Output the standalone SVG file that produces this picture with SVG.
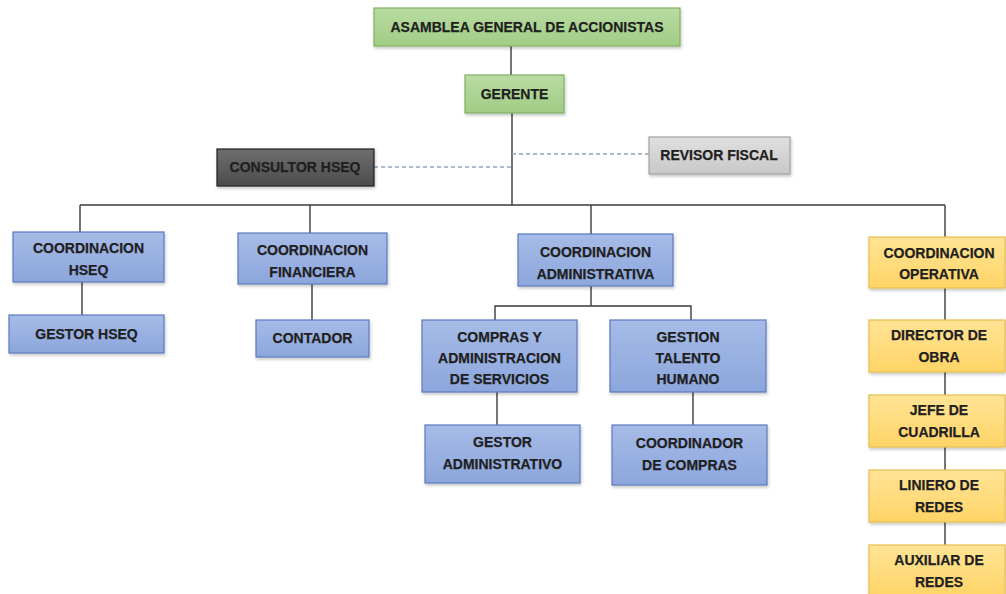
<svg xmlns="http://www.w3.org/2000/svg" width="1006" height="594" viewBox="0 0 1006 594">
<defs>
<linearGradient id="gBlue" x1="0" y1="0" x2="0" y2="1"><stop offset="0" stop-color="#a6bbe7"/><stop offset="1" stop-color="#8ca6dc"/></linearGradient>
<linearGradient id="gGreen" x1="0" y1="0" x2="0" y2="1"><stop offset="0" stop-color="#b9dca2"/><stop offset="1" stop-color="#a0cc84"/></linearGradient>
<linearGradient id="gYellow" x1="0" y1="0" x2="0" y2="1"><stop offset="0" stop-color="#ffe496"/><stop offset="1" stop-color="#ffd466"/></linearGradient>
<linearGradient id="gDark" x1="0" y1="0" x2="0" y2="1"><stop offset="0" stop-color="#6e6e6e"/><stop offset="1" stop-color="#4c4c4c"/></linearGradient>
<linearGradient id="gLight" x1="0" y1="0" x2="0" y2="1"><stop offset="0" stop-color="#e0e0e0"/><stop offset="1" stop-color="#c8c8c8"/></linearGradient>
<filter id="sh" x="-10%" y="-10%" width="125%" height="135%"><feDropShadow dx="1" dy="2" stdDeviation="1.5" flood-color="#000" flood-opacity="0.22"/></filter>
</defs>
<style>
.blue{fill:url(#gBlue);stroke:#5a7abf;stroke-width:1.2;filter:url(#sh)}
.green{fill:url(#gGreen);stroke:#7fb060;stroke-width:1.2;filter:url(#sh)}
.yellow{fill:url(#gYellow);stroke:#e8bd4e;stroke-width:1.2;filter:url(#sh)}
.dark{fill:url(#gDark);stroke:#1e1e1e;stroke-width:1.2;filter:url(#sh)}
.light{fill:url(#gLight);stroke:#a3a3a3;stroke-width:1.2;filter:url(#sh)}
text{font-family:"Liberation Sans",Arial,sans-serif;font-weight:bold;font-size:14px;fill:#1f1f1f;stroke:#1f1f1f;stroke-width:0.25;text-anchor:middle}
.ln{stroke:#3a3a3a;stroke-width:1.4;fill:none}
.dash{stroke:#93a4bb;stroke-width:1.3;stroke-dasharray:4 3;fill:none}
</style>
<rect width="1006" height="594" fill="#ffffff"/>
<g id="connectors">
<line class="ln" x1="511" y1="46" x2="511" y2="75"/>
<line class="ln" x1="512" y1="113" x2="512" y2="205"/>
<line class="dash" x1="374" y1="167" x2="512" y2="167"/>
<line class="dash" x1="512" y1="154" x2="649" y2="154"/>
<line class="ln" x1="80" y1="205" x2="945" y2="205"/>
<line class="ln" x1="80" y1="205" x2="80" y2="232"/>
<line class="ln" x1="82" y1="282" x2="82" y2="315"/>
<line class="ln" x1="310" y1="205" x2="310" y2="233"/>
<line class="ln" x1="312" y1="284" x2="312" y2="320"/>
<line class="ln" x1="591" y1="205" x2="591" y2="234"/>
<line class="ln" x1="591" y1="286" x2="591" y2="306"/>
<polyline class="ln" points="495,320 495,306 691,306 691,320"/>
<line class="ln" x1="497" y1="392" x2="497" y2="425"/>
<line class="ln" x1="693" y1="392" x2="693" y2="425"/>
<line class="ln" x1="945" y1="205" x2="945" y2="237"/>
<line class="ln" x1="945" y1="288" x2="945" y2="320"/>
<line class="ln" x1="945" y1="372" x2="945" y2="395"/>
<line class="ln" x1="945" y1="447" x2="945" y2="470"/>
<line class="ln" x1="945" y1="522" x2="945" y2="545"/>
</g>
<g id="asamblea"><rect class="green" x="374" y="8" width="306" height="38"/><text x="527" y="32">ASAMBLEA GENERAL DE ACCIONISTAS</text></g>
<g id="gerente"><rect class="green" x="465" y="75" width="99" height="38"/><text x="514.5" y="99">GERENTE</text></g>
<g id="consultor-hseq"><rect class="dark" x="217" y="149" width="157" height="37"/><text x="295" y="172">CONSULTOR HSEQ</text></g>
<g id="revisor-fiscal"><rect class="light" x="649" y="137" width="141" height="37"/><text x="719" y="160">REVISOR FISCAL</text></g>
<g id="coord-hseq"><rect class="blue" x="13" y="232" width="151" height="50"/><text x="88.5" y="253">COORDINACION</text><text x="88.5" y="275">HSEQ</text></g>
<g id="gestor-hseq"><rect class="blue" x="9" y="315" width="155" height="38"/><text x="86.5" y="339">GESTOR HSEQ</text></g>
<g id="coord-financiera"><rect class="blue" x="238" y="233" width="149" height="51"/><text x="312.5" y="255">COORDINACION</text><text x="312.5" y="277">FINANCIERA</text></g>
<g id="contador"><rect class="blue" x="256" y="320" width="113" height="37"/><text x="312.5" y="343">CONTADOR</text></g>
<g id="coord-administrativa"><rect class="blue" x="518" y="234" width="155" height="52"/><text x="595.5" y="257">COORDINACION</text><text x="595.5" y="279">ADMINISTRATIVA</text></g>
<g id="compras"><rect class="blue" x="422" y="320" width="155" height="72"/><text x="499.5" y="342">COMPRAS Y</text><text x="499.5" y="363">ADMINISTRACION</text><text x="499.5" y="384">DE SERVICIOS</text></g>
<g id="gestion-talento"><rect class="blue" x="610" y="320" width="156" height="72"/><text x="688" y="342">GESTION</text><text x="688" y="363">TALENTO</text><text x="688" y="384">HUMANO</text></g>
<g id="gestor-administrativo"><rect class="blue" x="425" y="425" width="155" height="58"/><text x="502.5" y="447">GESTOR</text><text x="502.5" y="469">ADMINISTRATIVO</text></g>
<g id="coordinador-compras"><rect class="blue" x="612" y="425" width="155" height="60"/><text x="689.5" y="448">COORDINADOR</text><text x="689.5" y="470">DE COMPRAS</text></g>
<g id="coord-operativa"><rect class="yellow" x="869" y="237" width="136" height="51"/><text x="939" y="258">COORDINACION</text><text x="939" y="279">OPERATIVA</text></g>
<g id="director-obra"><rect class="yellow" x="869" y="320" width="136" height="52"/><text x="939" y="340">DIRECTOR DE</text><text x="939" y="362">OBRA</text></g>
<g id="jefe-cuadrilla"><rect class="yellow" x="869" y="395" width="136" height="52"/><text x="939" y="415">JEFE DE</text><text x="939" y="437">CUADRILLA</text></g>
<g id="liniero-redes"><rect class="yellow" x="869" y="470" width="136" height="52"/><text x="939" y="490">LINIERO DE</text><text x="939" y="512">REDES</text></g>
<g id="auxiliar-redes"><rect class="yellow" x="869" y="545" width="136" height="52"/><text x="939" y="565">AUXILIAR DE</text><text x="939" y="587">REDES</text></g>
</svg>
